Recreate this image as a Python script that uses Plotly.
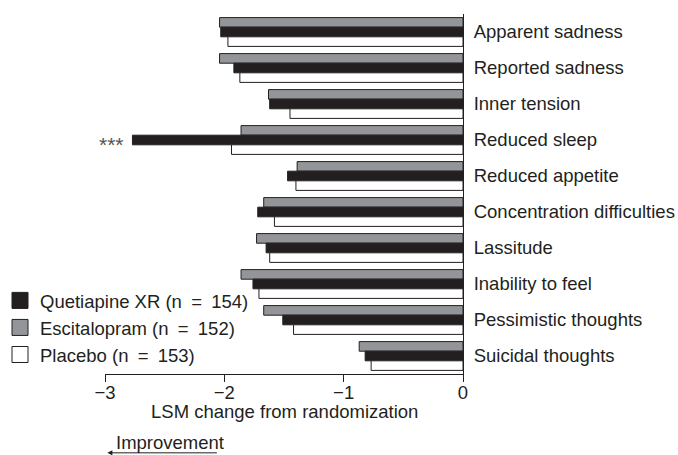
import plotly.graph_objects as go

categories = ["Apparent sadness", "Reported sadness", "Inner tension", "Reduced sleep",
              "Reduced appetite", "Concentration difficulties", "Lassitude",
              "Inability to feel", "Pessimistic thoughts", "Suicidal thoughts"]
quetiapine = [-2.03, -1.92, -1.62, -2.77, -1.47, -1.72, -1.65, -1.76, -1.51, -0.82]
escitalopram = [-2.04, -2.04, -1.63, -1.86, -1.39, -1.67, -1.73, -1.86, -1.67, -0.87]
placebo = [-1.97, -1.87, -1.45, -1.94, -1.40, -1.58, -1.62, -1.71, -1.42, -0.77]
x_ticks = [-3, -2, -1, 0]

FONT = "Liberation Sans, Arial, Helvetica, sans-serif"
INK = "#231f20"
FS = 18.5
SP = "\u2002"

fig = go.Figure()
series = [
    (f"Escitalopram (n{SP}={SP}152)", escitalopram, "#939598", 2),
    (f"Quetiapine XR (n{SP}={SP}154)", quetiapine, "#231f20", 1),
    (f"Placebo (n{SP}={SP}153)", placebo, "#ffffff", 3),
]
for name, vals, color, rank in series:
    fig.add_trace(go.Bar(
        y=categories, x=vals, name=name, orientation="h",
        marker=dict(color=color, line=dict(color=INK, width=1)),
        showlegend=False, legendgroup=name,
    ))
    # legend entry with a larger square swatch
    fig.add_trace(go.Scatter(
        x=[None], y=[None], mode="markers", name=name,
        marker=dict(symbol="square", size=16, color=color,
                    line=dict(color=INK, width=1)),
        legendrank=rank, legendgroup=name, showlegend=True, hoverinfo="skip",
    ))

fig.add_annotation(x=quetiapine[3], y=categories[3], text="***", showarrow=False,
                   xanchor="right", xshift=-6, yshift=-4,
                   font=dict(family=FONT, size=21, color="#555555"))
fig.add_annotation(x=0.5, y=-0.105, xref="paper", yref="paper",
                   text="LSM change from randomization", showarrow=False,
                   xanchor="center", yanchor="middle",
                   font=dict(family=FONT, size=FS, color=INK))
fig.add_annotation(x=-3, y=-0.189, xref="x", yref="paper", text="Improvement",
                   showarrow=False, xanchor="left", yanchor="middle", xshift=9,
                   font=dict(family=FONT, size=FS, color=INK))
fig.add_annotation(x=-2.98, y=-0.219, xref="x", yref="paper", ax=-2.05, ay=0,
                   axref="x", ayref="pixel", text="", showarrow=True,
                   arrowhead=2, arrowsize=1, arrowwidth=1, arrowcolor=INK)

fig.update_layout(
    width=678, height=455,
    margin=dict(l=105, r=215, t=14, b=81, autoexpand=False),
    paper_bgcolor="white", plot_bgcolor="white",
    barmode="group", bargap=0.2, bargroupgap=0,
    font=dict(family=FONT, size=FS, color=INK),
    showlegend=True,
    legend=dict(x=0, y=0.3805, xref="container", yref="container",
                xanchor="left", yanchor="top", itemsizing="trace",
                font=dict(family=FONT, size=FS, color=INK),
                tracegroupgap=4, bgcolor="rgba(0,0,0,0)", traceorder="normal",
                itemwidth=30),
    xaxis=dict(range=[-3, 0], tickvals=x_ticks, ticks="outside", ticklen=7,
               tickcolor=INK, showline=True, linecolor=INK, linewidth=1,
               showgrid=False, zeroline=False, automargin=False,
               ticklabelstandoff=-5, tickfont=dict(size=FS)),
    yaxis=dict(categoryorder="array", categoryarray=categories, autorange="reversed",
               side="right", showline=True, linecolor=INK, linewidth=1,
               ticks="", showgrid=False, zeroline=False, ticklabelstandoff=6,
               automargin=False, tickfont=dict(size=FS)),
)

fig.write_html("out.html", config={"displayModeBar": False},
               post_script="document.body.style.margin='0';")
